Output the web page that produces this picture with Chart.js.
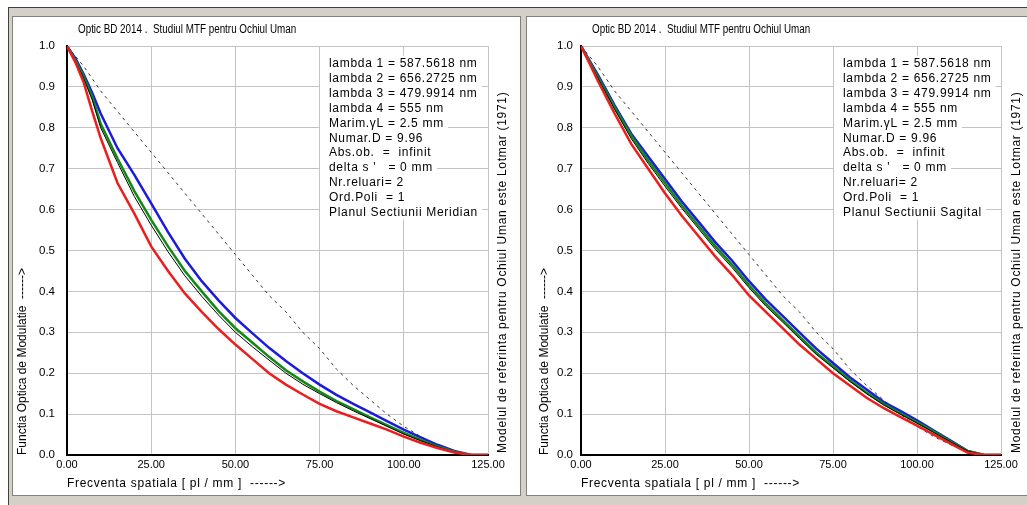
<!DOCTYPE html>
<html lang="ro">
<head>
<meta charset="UTF-8">
<title>Optic BD 2014 - Studiul MTF pentru Ochiul Uman</title>
<script src="https://cdn.jsdelivr.net/npm/chart.js"></script>
<style>
  body { margin: 0; background: #fff; font-family: Arial, "Liberation Sans", sans-serif; }
  #frame { position: absolute; left: 8px; top: 7px; right: 0; bottom: 0; background: #d4d0c8;
           border-left: 1px solid #404040; border-top: 1px solid #404040; }
  .panel { position: absolute; top: 16px; background: #fff; border: 1px solid #808080; }
  #p1 { left: 12px; }
  #p2 { left: 526px; }
  canvas { display: block; }
</style>
</head>
<body>
<div id="frame"></div>
<div class="panel" id="p1"><canvas id="mtfMeridian" width="507" height="478"></canvas></div>
<div class="panel" id="p2"><canvas id="mtfSagital" width="500" height="478"></canvas></div>

<script>
// frecventa spatiala [pl/mm]
const frecventa = [0, 2.5, 5, 7.5, 10, 15, 20, 25, 30, 35, 40, 45, 50, 55, 60, 65, 70, 75, 80, 85, 90, 95, 100, 105, 110, 115, 120, 125];

// referinta Lotmar (linie punctata), aceeasi in ambele planuri
const lotmar = [1.0, 0.975, 0.95, 0.92, 0.89, 0.84, 0.79, 0.74, 0.69, 0.64, 0.59, 0.54, 0.49, 0.44, 0.39, 0.35, 0.30, 0.26, 0.21, 0.17, 0.135, 0.10, 0.07, 0.045, 0.025, 0.008, 0, 0];

// planul meridian
const merRosu  = [1.0, 0.96, 0.91, 0.84, 0.775, 0.665, 0.59, 0.51, 0.45, 0.395, 0.35, 0.308, 0.27, 0.235, 0.2, 0.172, 0.148, 0.125, 0.107, 0.092, 0.077, 0.062, 0.045, 0.03, 0.017, 0.006, 0, 0];
const merNegru = [1.0, 0.963, 0.92, 0.868, 0.8, 0.715, 0.632, 0.562, 0.497, 0.438, 0.388, 0.342, 0.3, 0.265, 0.232, 0.2, 0.173, 0.15, 0.128, 0.108, 0.089, 0.07, 0.051, 0.035, 0.02, 0.007, 0, 0];
const merVerde = [1.0, 0.965, 0.925, 0.875, 0.81, 0.725, 0.645, 0.575, 0.51, 0.45, 0.4, 0.352, 0.31, 0.275, 0.24, 0.207, 0.18, 0.155, 0.132, 0.112, 0.092, 0.073, 0.054, 0.037, 0.021, 0.008, 0, 0];
const merAlbastru = [1.0, 0.97, 0.93, 0.885, 0.835, 0.75, 0.685, 0.615, 0.545, 0.48, 0.425, 0.378, 0.335, 0.298, 0.262, 0.23, 0.2, 0.172, 0.147, 0.125, 0.104, 0.083, 0.062, 0.043, 0.025, 0.01, 0, 0];

// planul sagital
const sagRosu  = [1.0, 0.958, 0.915, 0.875, 0.835, 0.76, 0.70, 0.64, 0.585, 0.535, 0.485, 0.44, 0.39, 0.35, 0.31, 0.27, 0.235, 0.2, 0.17, 0.14, 0.115, 0.093, 0.072, 0.05, 0.028, 0.006, 0, 0];
const sagNegru = [1.0, 0.96, 0.922, 0.884, 0.845, 0.773, 0.713, 0.657, 0.603, 0.553, 0.503, 0.458, 0.409, 0.364, 0.325, 0.285, 0.246, 0.213, 0.18, 0.15, 0.123, 0.1, 0.078, 0.055, 0.032, 0.01, 0, 0];
const sagVerde = [1.0, 0.962, 0.925, 0.888, 0.85, 0.78, 0.72, 0.665, 0.61, 0.56, 0.51, 0.465, 0.415, 0.37, 0.33, 0.29, 0.25, 0.217, 0.183, 0.152, 0.125, 0.102, 0.08, 0.057, 0.033, 0.01, 0, 0];
const sagAlbastru = [1.0, 0.965, 0.93, 0.893, 0.855, 0.785, 0.73, 0.675, 0.62, 0.57, 0.52, 0.475, 0.425, 0.38, 0.34, 0.30, 0.26, 0.225, 0.19, 0.16, 0.13, 0.108, 0.085, 0.06, 0.035, 0.01, 0, 0];

const titlu = 'Optic BD 2014 .  Studiul MTF pentru Ochiul Uman';
const titluX = 'Frecventa spatiala [ pl / mm ]  ------>';
const titluY = 'Functia Optica de Modulatie  ------>';
const titluDreapta = 'Modelul de referinta pentru Ochiul Uman este Lotmar (1971)';
const parametri = ['lambda 1 = 587.5618 nm', 'lambda 2 = 656.2725 nm', 'lambda 3 = 479.9914 nm',
  'lambda 4 = 555 nm', 'Marim.\u03b3L = 2.5 mm', 'Numar.D = 9.96', 'Abs.ob.  =  infinit',
  "delta s '   = 0 mm", 'Nr.reluari= 2', 'Ord.Poli  = 1'];

// texte desenate peste grafic
const textePlugin = {
  id: 'texte',
  beforeDatasetsDraw(chart, args, o) {
    const ctx = chart.ctx, a = chart.chartArea;
    ctx.save();
    ctx.font = '12px Arial';
    ctx.letterSpacing = '0.7px';
    ctx.textBaseline = 'alphabetic';
    const x = a.left + 262;
    o.lines.forEach((t, i) => {
      const by = a.top + 21 + i * 14.9;
      const w = ctx.measureText(t).width;
      ctx.fillStyle = '#fff';
      ctx.fillRect(x - 9, by - 11.5, w + 13, 14.9);
      ctx.fillStyle = '#000';
      ctx.fillText(t, x, by);
    });
    ctx.restore();
  },
  afterDraw(chart, args, o) {
    const ctx = chart.ctx, a = chart.chartArea;
    ctx.save();
    ctx.fillStyle = '#000';
    ctx.textBaseline = 'middle';
    ctx.font = '12px Arial';
    // titlul e scris mai ingust in original
    ctx.save();
    ctx.translate(a.left + 11, 13);
    ctx.scale(0.82, 1);
    ctx.fillText(titlu, 0, 0);
    ctx.restore();
    ctx.letterSpacing = '0.7px';
    ctx.fillText(titluX, a.left, a.bottom + 29);
    ctx.translate(a.right + o.dx, a.bottom - 2);
    ctx.rotate(-Math.PI / 2);
    ctx.textAlign = 'left';
    ctx.fillText(titluDreapta, 0, 0);
    ctx.restore();
  }
};

function serie(vals, color, width, dash) {
  return {
    data: frecventa.map((f, i) => ({ x: f, y: vals[i] })),
    borderColor: color, borderWidth: width, borderDash: dash || [],
    pointRadius: 0, tension: 0, fill: false
  };
}

function grafic(id, curbe, plan, p) {
  const canvas = document.getElementById(id);
  return new Chart(canvas, {
    type: 'line',
    data: {
      datasets: [
        serie(curbe[0], '#ee1c1c', 2.5),
        serie(curbe[1], '#000000', 1),
        serie(curbe[2], '#118a11', 2.5),
        serie(curbe[3], '#1a1ae0', 2.5),
        serie(lotmar, '#333333', 1, [3, 4])
      ]
    },
    options: {
      responsive: false,
      animation: false,
      layout: { padding: { left: 0, top: 29, right: canvas.width - p.right, bottom: 0 } },
      plugins: {
        legend: { display: false },
        tooltip: { enabled: false },
        texte: { lines: parametri.concat([plan]), dx: p.dx }
      },
      scales: {
        x: {
          type: 'linear', min: 0, max: 125,
          ticks: { stepSize: 25, callback: v => v.toFixed(2), padding: 3, color: '#000',
                   font: { family: 'Arial', size: 11 }, maxRotation: 0, autoSkip: false },
          grid: { color: '#c4c4c4', drawTicks: false },
          border: { color: '#000', width: 2 },
          afterFit: s => { s.height = 40; }
        },
        y: {
          min: 0, max: 1,
          ticks: { stepSize: 0.1, callback: v => v.toFixed(1), padding: p.tickPad, color: '#000',
                   font: { family: 'Arial', size: 11.5 } },
          grid: { color: '#c4c4c4', drawTicks: false },
          border: { color: '#000', width: 2 },
          title: { display: true, text: titluY, align: 'start', color: '#000',
                   font: { family: 'Arial', size: 12 }, padding: { top: p.titlePad, bottom: 0 } },
          afterFit: s => { s.width = 54; }
        }
      }
    },
    plugins: [textePlugin]
  });
}

grafic('mtfMeridian', [merRosu, merNegru, merVerde, merAlbastru], 'Planul Sectiunii Meridian',
       { right: 475, dx: 15, tickPad: 12, titlePad: 2 });
grafic('mtfSagital', [sagRosu, sagNegru, sagVerde, sagAlbastru], 'Planul Sectiunii Sagital',
       { right: 474, dx: 16, tickPad: 8, titlePad: 10 });
</script>
</body>
</html>
